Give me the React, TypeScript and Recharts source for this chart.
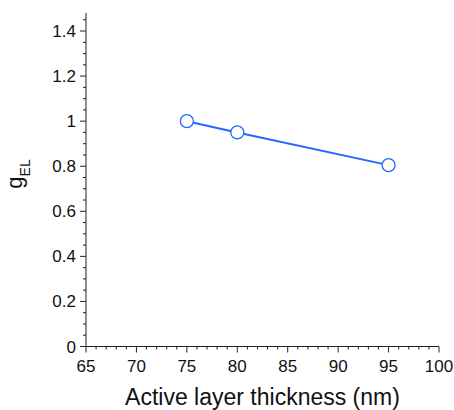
import { LineChart, Line, XAxis, YAxis } from "recharts"

// active layer thickness (nm) vs g_EL
const thickness = [75, 80, 95]
const gEL = [1.0, 0.95, 0.805]

const xMajorTicks = [65, 70, 75, 80, 85, 90, 95, 100]
const xMajorLabels = ["65", "70", "75", "80", "85", "90", "95", "100"]
const yMajorTicks = [0, 0.2, 0.4, 0.6, 0.8, 1, 1.2, 1.4]
const yMajorLabels = ["0", "0.2", "0.4", "0.6", "0.8", "1", "1.2", "1.4"]

const xDomain = [65, 100]
const yDomain = [0, 1.48]

// minor ticks every 1 nm and every 0.05
const xAllTicks: number[] = []
for (let v = 65; v <= 100; v++) xAllTicks.push(v)
const yAllTicks: number[] = []
for (let i = 0; i <= 29; i++) yAllTicks.push(i / 20)

const data = thickness.map((x, i) => ({ x, g: gEL[i] }))

const FONT = "'Liberation Sans', Arial, sans-serif"
const AXIS = "#222"
const BLUE = "#2468ff"

const near = (a: number, b: number) => Math.abs(a - b) < 1e-6

function BottomTick(props: any) {
  const { x, y, payload } = props
  const idx = xMajorTicks.findIndex((t) => near(t, payload.value))
  const major = idx >= 0
  return (
    <g>
      <line x1={x} y1={y} x2={x} y2={y + (major ? 6 : 3)} stroke={AXIS} />
      {major && (
        <text x={x} y={y + 25} textAnchor="middle" fontSize={17} fontFamily={FONT} fill="#111">
          {xMajorLabels[idx]}
        </text>
      )}
    </g>
  )
}

function LeftTick(props: any) {
  const { x, y, payload } = props
  const idx = yMajorTicks.findIndex((t) => near(t, payload.value))
  const major = idx >= 0
  return (
    <g>
      <line x1={x} y1={y} x2={x - (major ? 6 : 3)} y2={y} stroke={AXIS} />
      {major && (
        <text x={x - 10} y={y + 6} textAnchor="end" fontSize={17} fontFamily={FONT} fill="#111">
          {yMajorLabels[idx]}
        </text>
      )}
    </g>
  )
}

function RightTick(props: any) {
  const { x, y, payload } = props
  const major = yMajorTicks.some((t) => near(t, payload.value))
  return <line x1={x} y1={y} x2={x + (major ? 6 : 3)} y2={y} stroke={AXIS} />
}

function YTitle() {
  return (
    <text transform="translate(22, 174) rotate(-90)" textAnchor="middle" fontFamily={FONT} fill="#111">
      <tspan fontSize={22}>g</tspan>
      <tspan fontSize={14} dy={8}>EL</tspan>
    </text>
  )
}

export default function App() {
  return (
    <div style={{ position: "absolute", left: 0, top: 0, background: "#fff" }}>
      <LineChart width={454} height={410} data={data} margin={{ top: 13, right: 15, bottom: 0, left: 0 }}>
        <XAxis
          xAxisId="bottom"
          dataKey="x"
          type="number"
          domain={xDomain}
          ticks={xAllTicks}
          interval={0}
          tickSize={0}
          tickMargin={0}
          tick={<BottomTick />}
          height={63.5}
          axisLine={{ stroke: AXIS }}
          label={{ value: "Active layer thickness (nm)", position: "insideBottom", offset: 5, fontSize: 23, fontFamily: FONT, fill: "#111" }}
        />
        <XAxis
          xAxisId="top"
          orientation="top"
          dataKey="x"
          type="number"
          domain={xDomain}
          height={0}
          tick={false}
          tickLine={false}
          axisLine={{ stroke: AXIS }}
        />
        <YAxis
          yAxisId="left"
          type="number"
          domain={yDomain}
          ticks={yAllTicks}
          interval={0}
          tickSize={0}
          tickMargin={0}
          tick={<LeftTick />}
          width={86}
          axisLine={{ stroke: AXIS }}
          label={{ content: () => <YTitle /> }}
        />
        <YAxis
          yAxisId="right"
          orientation="right"
          type="number"
          domain={yDomain}
          ticks={yAllTicks}
          interval={0}
          tickSize={0}
          tickMargin={0}
          tick={<RightTick />}
          width={0}
          axisLine={{ stroke: AXIS }}
        />
        <Line
          xAxisId="bottom"
          yAxisId="left"
          dataKey="g"
          stroke={BLUE}
          strokeWidth={2}
          dot={{ r: 6.5, fill: "#fff", stroke: BLUE, strokeWidth: 1.3 }}
          isAnimationActive={false}
        />
      </LineChart>
    </div>
  )
}
